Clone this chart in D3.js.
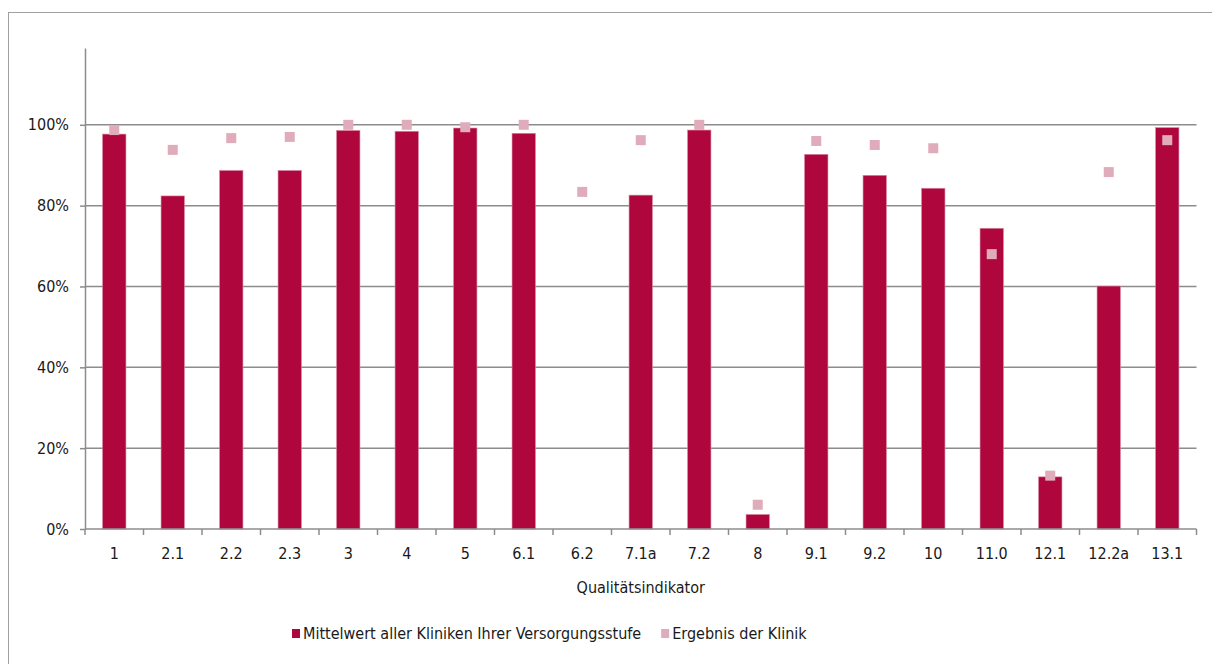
<!DOCTYPE html>
<html>
<head>
<meta charset="utf-8">
<script src="https://cdn.jsdelivr.net/npm/d3@7"></script>
<style>
  body { margin: 0; background: #fff; }
  svg { display: block; font-family: "DejaVu Sans Condensed", "DejaVu Sans", sans-serif; }
</style>
</head>
<body>
<div id="chart"></div>
<script>
var categories = ["1", "2.1", "2.2", "2.3", "3", "4", "5", "6.1", "6.2", "7.1a", "7.2", "8", "9.1", "9.2", "10", "11.0", "12.1", "12.2a", "13.1"];
// Mittelwert aller Kliniken (null = no bar)
var meanValues = [0.977, 0.824, 0.887, 0.887, 0.986, 0.984, 0.992, 0.979, null, 0.826, 0.987, 0.036, 0.927, 0.875, 0.843, 0.744, 0.129, 0.601, 0.993];
// Ergebnis der Klinik
var clinicValues = [0.987, 0.938, 0.967, 0.970, 1.0, 1.0, 0.994, 1.0, 0.834, 0.962, 1.0, 0.060, 0.960, 0.950, 0.942, 0.680, 0.132, 0.883, 0.962];
var yTicks = [0, 0.2, 0.4, 0.6, 0.8, 1.0];
var seriesNames = ["Mittelwert aller Kliniken Ihrer Versorgungsstufe", "Ergebnis der Klinik"];

var width = 1212, height = 664;
var barColor = "#b0063e", markerColor = "#e0acbc", axisColor = "#8c8c8c", textColor = "#1a1a1a";
var fontFamily = "DejaVu Sans Condensed";
var fontSize = 16;
var margin = {top: 48, left: 85, right: 15.5, bottom: 135};

var svg = d3.select("#chart").append("svg")
    .attr("width", width)
    .attr("height", height);

// outer frame
svg.append("rect")
    .attr("x", 8.5).attr("y", 12.5)
    .attr("width", 1210).attr("height", 660)
    .attr("fill", "none")
    .attr("stroke", "#a0a0a0");

var x = d3.scaleBand()
    .domain(categories)
    .range([margin.left, width - margin.right])
    .paddingInner(0).paddingOuter(0);

var y = d3.scaleLinear()
    .domain([0, 1.19])
    .range([height - margin.bottom, margin.top]);

// gridlines
svg.append("g")
    .selectAll("line")
    .data(yTicks.slice(1))
    .join("line")
    .attr("x1", margin.left)
    .attr("x2", width - margin.right)
    .attr("y1", d => y(d))
    .attr("y2", d => y(d))
    .attr("stroke", axisColor)
    .attr("stroke-width", 1.5);

// y axis
var yAxis = svg.append("g")
    .attr("transform", `translate(${margin.left},0)`)
    .call(d3.axisLeft(y).tickValues(yTicks).tickFormat(d3.format(".0%")).tickSize(5).tickPadding(11).tickSizeOuter(0));
yAxis.select(".domain").attr("stroke", axisColor).attr("stroke-width", 1.5);
yAxis.selectAll(".tick line").attr("stroke", axisColor).attr("stroke-width", 1.5);
yAxis.selectAll("text").attr("font-size", fontSize).attr("fill", textColor).attr("font-family", fontFamily);

// bars
svg.append("g")
    .selectAll("rect")
    .data(categories.map((c, i) => ({c: c, v: meanValues[i]})).filter(d => d.v !== null))
    .join("rect")
    .attr("x", d => x(d.c) + x.bandwidth() * 0.3)
    .attr("width", x.bandwidth() * 0.4)
    .attr("y", d => y(d.v))
    .attr("height", d => y(0) - y(d.v))
    .attr("fill", barColor)
    .attr("stroke", "#d88aa3")
    .attr("stroke-width", 0.6);

// x axis with boundary ticks
var xAxisG = svg.append("g");
xAxisG.append("line")
    .attr("x1", margin.left).attr("x2", width - margin.right)
    .attr("y1", y(0)).attr("y2", y(0))
    .attr("stroke", axisColor).attr("stroke-width", 1.5);
var bounds = categories.map(c => x(c)).concat([x(categories[categories.length - 1]) + x.bandwidth()]);
xAxisG.selectAll("line.tk")
    .data(bounds)
    .join("line")
    .attr("class", "tk")
    .attr("x1", d => d).attr("x2", d => d)
    .attr("y1", y(0)).attr("y2", y(0) + 6)
    .attr("stroke", axisColor).attr("stroke-width", 1.5);
xAxisG.selectAll("text")
    .data(categories)
    .join("text")
    .attr("x", d => x(d) + x.bandwidth() / 2)
    .attr("y", 559)
    .attr("text-anchor", "middle")
    .attr("font-size", fontSize)
    .attr("fill", textColor)
    .text(d => d);

// clinic markers
svg.append("g")
    .selectAll("rect")
    .data(categories.map((c, i) => ({c: c, v: clinicValues[i]})))
    .join("rect")
    .attr("x", d => x(d.c) + x.bandwidth() / 2 - 5)
    .attr("y", d => y(d.v) - 5)
    .attr("width", 10)
    .attr("height", 10)
    .attr("fill", markerColor);

// axis title
svg.append("text")
    .attr("x", (margin.left + width - margin.right) / 2)
    .attr("y", 593)
    .attr("text-anchor", "middle")
    .attr("font-size", fontSize)
    .attr("fill", textColor)
    .text("Qualitätsindikator");

// legend: items laid out one after another
var legend = svg.append("g").attr("font-size", fontSize).attr("fill", textColor);
var legendColors = [barColor, markerColor];
var lx = 292;
seriesNames.forEach(function (name, i) {
    legend.append("rect")
        .attr("x", lx).attr("y", 629)
        .attr("width", 8).attr("height", 9)
        .attr("fill", legendColors[i]);
    var t = legend.append("text")
        .attr("x", lx + 11).attr("y", 639)
        .text(name);
    lx = lx + 11 + t.node().getComputedTextLength() + 20;
});
</script>
</body>
</html>
